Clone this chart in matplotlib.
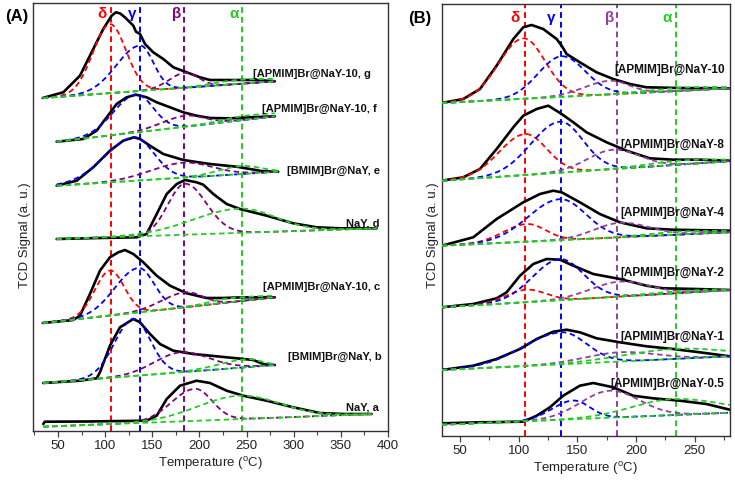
import numpy as np
import matplotlib
matplotlib.use('Agg')
import matplotlib.pyplot as plt
from matplotlib.ticker import MultipleLocator

plt.rcParams['font.family'] = ['Liberation Sans', 'DejaVu Sans']
plt.rcParams['mathtext.fontset'] = 'custom'
plt.rcParams['mathtext.rm'] = 'Liberation Sans'

# ======================= Panel A data =======================
# measured TCD traces (temperature degC, signal a.u. incl. vertical offset)
A_g_T = [33.8, 55.6, 73.3, 87.4, 98.0, 106.9, 111.5, 116.0, 121.0, 129.9, 132.7, 137.0, 142.3,
         151.0, 161.7, 172.3, 186.5, 200.6, 211.2, 232.4, 260.7, 280.0]
A_g_S = [333.0, 338.7, 355.3, 382.0, 402.0, 415.3, 418.7, 417.5, 413.7, 405.3, 399.3, 397.0, 387.0,
         378.7, 372.0, 363.7, 358.7, 353.7, 351.0, 351.0, 351.0, 349.7]
A_f_T = [48.6, 76.8, 91.0, 101.6, 112.2, 122.8, 132.7, 144.0, 154.7, 168.8, 182.9, 197.0,
         211.2, 232.4, 253.6, 280.0]
A_f_S = [289.3, 292.0, 300.3, 313.7, 327.0, 333.7, 336.3, 333.7, 328.7, 323.7, 318.7, 315.3,
         313.0, 312.7, 313.7, 314.7]
A_e_T = [48.6, 69.8, 87.4, 105.1, 119.2, 130.6, 137.0, 147.6, 161.7, 182.9, 211.2, 239.5,
         267.7, 283.6]
A_e_S = [245.3, 250.3, 263.7, 280.3, 290.3, 293.7, 292.0, 285.3, 277.0, 271.0, 267.0, 264.3,
         259.7, 259.3]
A_d_T = [48.6, 94.5, 133.5, 144.0, 154.7, 165.3, 175.9, 184.7, 197.0, 204.1, 214.7, 228.9,
         243.0, 271.3, 299.5, 324.3, 349.0, 388.0]
A_d_S = [192.0, 193.0, 193.7, 197.0, 217.0, 237.0, 247.0, 251.0, 248.7, 246.3, 237.0, 227.0,
         222.0, 215.3, 207.7, 203.7, 202.7, 202.7]
A_c_T = [33.8, 66.2, 73.3, 83.9, 94.5, 105.1, 114.0, 121.0, 129.9, 140.5, 154.7, 168.8,
         186.5, 207.7, 225.3, 246.5, 280.0]
A_c_S = [108.0, 111.0, 115.3, 137.0, 160.3, 173.7, 178.7, 181.0, 177.0, 168.7, 155.3, 145.3,
         137.7, 133.0, 133.0, 133.7, 133.7]
A_b_T = [34.4, 73.3, 91.0, 94.5, 105.1, 115.7, 129.9, 137.0, 147.6, 158.2, 172.3, 193.5,
         228.9, 257.1, 267.7, 280.0]
A_b_S = [48.0, 50.3, 52.7, 58.7, 85.3, 103.7, 112.0, 108.7, 97.0, 87.0, 80.3, 77.0,
         73.7, 71.0, 67.0, 66.0]
A_a_T = [34.4, 36.0, 80.0, 144.0, 154.7, 165.3, 179.4, 197.0, 211.2, 228.9, 246.5, 271.3,
         299.5, 327.8, 352.5, 382.6]
A_a_S = [7.0, 9.3, 9.5, 10.3, 15.3, 32.0, 45.3, 50.3, 48.0, 40.3, 35.3, 30.3,
         23.7, 18.0, 17.0, 17.0]

# linear baselines: [T_start, S_start, T_end, S_end]
A_g_base = [33.8, 333.0, 280.0, 349.7]
A_f_base = [48.6, 289.3, 280.0, 314.7]
A_e_base = [48.6, 245.3, 283.6, 259.3]
A_d_base = [48.6, 192.0, 388.0, 202.7]
A_c_base = [33.8, 108.0, 280.0, 133.7]
A_b_base = [34.4, 48.0, 280.0, 66.0]
A_a_base = [34.4, 4.3, 382.6, 17.0]

# deconvoluted peaks: [centre, height, left width, right width]
A_g_peaks = {'delta': [105.0, 69.0, 18.0, 17.0], 'gamma': [137.0, 45.5, 25.0, 14.0],
             'beta': [185.0, 15.0, 17.0, 14.0], 'alpha': [240.0, 4.0, 25.0, 40.0]}
A_f_peaks = {'gamma': [132.7, 38.0, 24.0, 18.0], 'beta': [185.0, 11.0, 25.0, 20.0],
             'alpha': [250.0, 4.0, 25.0, 40.0]}
A_e_peaks = {'gamma': [130.6, 43.5, 31.0, 21.0], 'beta': [183.0, 15.0, 35.0, 30.0],
             'alpha': [245.0, 8.0, 25.0, 20.0]}
A_d_peaks = {'beta': [184.7, 51.0, 18.0, 22.5], 'alpha': [243.0, 24.3, 50.0, 37.0]}
A_c_peaks = {'delta': [105.1, 45.0, 16.0, 15.0], 'gamma': [135.2, 44.5, 25.0, 16.6],
             'beta': [184.7, 15.0, 25.0, 18.0], 'alpha': [230.0, 4.0, 20.0, 40.0]}
A_b_peaks = {'gamma': [129.9, 57.0, 20.0, 18.0], 'beta': [180.0, 20.0, 28.0, 30.0],
             'alpha': [250.0, 8.0, 30.0, 15.0]}
A_a_peaks = {'beta': [195.3, 32.0, 25.0, 18.0], 'alpha': [243.0, 23.4, 45.0, 42.0]}

A_labels = ['[APMIM]Br@NaY-10, g', '[APMIM]Br@NaY-10, f', '[BMIM]Br@NaY, e', 'NaY, d',
            '[APMIM]Br@NaY-10, c', '[BMIM]Br@NaY, b', 'NaY, a']
A_site_T = [106, 137, 184, 245]

# ======================= Panel B data =======================
B_10_T = [34.4, 52.8, 67.0, 81.2, 95.4, 103.9, 111.0, 120.9, 132.3, 136.6, 140.8, 152.1,
          166.3, 180.5, 194.7, 208.9, 237.2, 279.8]
B_10_S = [332.7, 336.7, 346.7, 370.0, 396.7, 408.4, 410.7, 406.7, 396.7, 390.0, 381.7, 373.4,
          363.4, 356.7, 351.7, 348.4, 347.7, 347.4]
B_8_T = [34.4, 52.8, 67.0, 81.2, 95.4, 103.9, 115.3, 125.2, 136.6, 146.5, 157.8, 174.9,
         191.9, 211.7, 231.5, 254.3, 279.8]
B_8_S = [255.0, 258.4, 266.7, 286.7, 308.4, 320.0, 326.7, 330.0, 321.7, 313.4, 303.4, 293.4,
         285.0, 277.4, 276.0, 276.0, 275.0]
B_4_T = [34.4, 61.3, 81.2, 103.9, 118.1, 129.4, 136.6, 152.1, 169.1, 186.2, 208.9, 231.5, 279.8]
B_4_S = [190.0, 198.4, 216.7, 233.4, 241.7, 245.0, 243.4, 233.4, 221.7, 213.4, 207.4, 206.0, 205.0]
B_2_T = [34.4, 61.3, 81.2, 89.7, 101.1, 112.4, 123.8, 135.1, 146.5, 163.5, 186.2, 208.9,
         223.0, 251.4, 279.8]
B_2_S = [128.4, 131.7, 137.4, 143.4, 160.0, 171.7, 176.7, 176.0, 170.0, 161.7, 156.7, 150.0,
         147.4, 146.7, 145.7]
B_1_T = [34.4, 61.3, 81.2, 101.1, 115.3, 129.4, 140.8, 152.1, 166.3, 186.2, 208.9, 231.5,
         254.3, 279.8]
B_1_S = [65.7, 70.0, 76.7, 86.7, 96.7, 104.0, 106.0, 103.4, 97.4, 93.4, 89.4, 86.7, 83.4, 79.4]
B_05_T = [34.4, 67.0, 103.9, 115.3, 126.6, 137.9, 152.1, 163.5, 180.5, 197.5, 214.5, 237.2,
          259.9, 279.8]
B_05_S = [12.4, 13.4, 14.0, 20.0, 28.4, 40.0, 50.0, 52.7, 48.4, 40.0, 37.4, 35.0, 31.7, 26.0]

B_10_base = [34.4, 332.7, 279.8, 347.4]
B_8_base = [34.4, 255.0, 279.8, 274.5]
B_4_base = [34.4, 190.0, 279.8, 203.5]
B_2_base = [34.4, 128.4, 279.8, 145.7]
B_1_base = [34.4, 65.7, 279.8, 79.4]
B_05_base = [34.4, 11.0, 279.8, 23.0]

B_10_peaks = {'delta': [103.9, 60.5, 21.0, 18.5], 'gamma': [136.6, 40.6, 20.0, 20.0],
              'beta': [177.7, 13.7, 22.0, 16.0], 'alpha': [240.0, 3.0, 30.0, 30.0]}
B_8_peaks = {'delta': [105.3, 41.0, 22.0, 18.5], 'gamma': [135.1, 51.0, 24.7, 19.6],
             'beta': [180.5, 19.4, 22.0, 22.0], 'alpha': [240.0, 4.0, 30.0, 30.0]}
B_4_peaks = {'delta': [106.8, 17.7, 20.0, 16.0], 'gamma': [135.1, 41.0, 27.0, 22.0],
             'beta': [186.2, 14.5, 22.0, 25.0], 'alpha': [240.0, 3.0, 30.0, 30.0]}
B_2_peaks = {'delta': [106.8, 12.5, 18.0, 16.0], 'gamma': [135.1, 41.0, 23.4, 20.0],
             'beta': [186.2, 15.0, 25.0, 25.0], 'alpha': [240.0, 2.0, 30.0, 30.0]}
B_1_peaks = {'gamma': [136.6, 32.0, 33.0, 21.0], 'beta': [186.2, 9.3, 30.0, 30.0],
             'alpha': [234.4, 10.0, 45.0, 40.0]}
B_05_peaks = {'gamma': [146.5, 18.7, 18.0, 14.0], 'beta': [177.7, 27.0, 25.0, 25.0],
              'alpha': [231.5, 16.0, 35.0, 40.0]}

B_labels = ['[APMIM]Br@NaY-10', '[APMIM]Br@NaY-8', '[APMIM]Br@NaY-4', '[APMIM]Br@NaY-2',
            '[APMIM]Br@NaY-1', '[APMIM]Br@NaY-0.5']
B_site_T = [105, 136, 184, 234]

site_names = ['δ', 'γ', 'β', 'α']

# ======================= styling / layout =======================
W, H = 735, 481
RED, BLUE, GREEN = '#ff0000', '#0000ff', '#22cc22'
PURPLE_A, PURPLE_B = '#800080', '#9040a0'
DASH = (3, 2)

A_label_xy = [(381.9, 358), (388.3, 323), (391.5, 261), (391.5, 209), (391.5, 145),
              (393.6, 75), (390.4, 25)]
B_label_xy = [(275.5, 366.7), (275.5, 291.7), (275.5, 223.7), (275.5, 164), (275.5, 100),
              (275.5, 52.7)]
A_greek_T = [96.7, 128.5, 176.2, 236.6]
B_greek_T = [96.8, 127.4, 177.7, 226.2]


def baseline(T, base):
    T0, S0, T1, S1 = base
    return S0 + (S1 - S0) * (T - T0) / (T1 - T0)


def peak_curve(T, base, p):
    c, h, sl, sr = p
    s = np.where(T < c, sl, sr)
    return baseline(T, base) + h * np.exp(-0.5 * ((T - c) / s) ** 2)


def draw_sample(ax, T, S, base, peaks, purple):
    ax.plot(T, S, color='black', lw=1.9, solid_joinstyle='round', solid_capstyle='round',
            zorder=2)
    grid = np.linspace(base[0], base[2], 300)
    cols = {'delta': RED, 'gamma': BLUE, 'beta': purple, 'alpha': GREEN}
    for key in ['delta', 'gamma', 'beta', 'alpha']:
        if key in peaks:
            ax.plot(grid, peak_curve(grid, base, peaks[key]), color=cols[key], lw=1.3,
                    dashes=DASH, zorder=3)
    ax.plot(grid, baseline(grid, base), color=GREEN, lw=1.3, dashes=DASH, zorder=3)


def style_axes(ax, xlim, ylim, xticks):
    ax.set_xlim(*xlim)
    ax.set_ylim(*ylim)
    ax.set_xticks(xticks)
    ax.xaxis.set_minor_locator(MultipleLocator(25))
    ax.set_yticks([])
    ax.tick_params(axis='x', which='major', direction='out', length=4, width=0.9,
                   labelsize=9.5, pad=2, colors='#444444', labelcolor='#222222')
    ax.tick_params(axis='x', which='minor', direction='out', length=3, width=0.8,
                   colors='#444444')
    for sp in ax.spines.values():
        sp.set_linewidth(1.0)
        sp.set_color('#333333')
    ax.set_xlabel('Temperature ($^{\\mathrm{o}}$C)', fontsize=9.5, labelpad=2, color='#222222')
    ax.set_ylabel('TCD Signal (a. u.)', fontsize=9.5, color='#222222')


fig = plt.figure(figsize=(W / 100, H / 100), dpi=100)
axA = fig.add_axes([33 / W, 1 - 432 / H, 355 / W, 428 / H])
axB = fig.add_axes([441.7 / W, 1 - 436.7 / H, (730 - 441.7) / W, (436.7 - 5) / H])

style_axes(axA, (23.5, 400), (0, 428), [50, 100, 150, 200, 250, 300, 350, 400])
style_axes(axB, (34.4, 280), (0, 431.7), [50, 100, 150, 200, 250])
axA.yaxis.set_label_coords(-0.006, 0.46)
axB.yaxis.set_label_coords(-0.01, 0.467)

site_cols_A = [RED, BLUE, PURPLE_A, GREEN]
site_cols_B = [RED, BLUE, PURPLE_B, GREEN]
for t, c in zip(A_site_T, site_cols_A):
    axA.axvline(t, color=c, lw=1.4, dashes=DASH, zorder=1)
for t, c in zip(B_site_T, site_cols_B):
    axB.axvline(t, color=c, lw=1.4, dashes=DASH, zorder=1)
for t, c, n in zip(A_greek_T, site_cols_A, site_names):
    axA.text(t, 418, n, color=c, fontsize=11, fontweight='bold', ha='center', va='center')
for t, c, n in zip(B_greek_T, site_cols_B, site_names):
    axB.text(t, 418.7, n, color=c, fontsize=11, fontweight='bold', ha='center', va='center')

A_samples = [(A_g_T, A_g_S, A_g_base, A_g_peaks), (A_f_T, A_f_S, A_f_base, A_f_peaks),
             (A_e_T, A_e_S, A_e_base, A_e_peaks), (A_d_T, A_d_S, A_d_base, A_d_peaks),
             (A_c_T, A_c_S, A_c_base, A_c_peaks), (A_b_T, A_b_S, A_b_base, A_b_peaks),
             (A_a_T, A_a_S, A_a_base, A_a_peaks)]
for (T, S, base, peaks), lab, (lx, ly) in zip(A_samples, A_labels, A_label_xy):
    draw_sample(axA, np.array(T), np.array(S), base, peaks, PURPLE_A)
    axA.text(lx, ly, lab, fontsize=8, fontweight='bold', ha='right', va='center',
             color='#111111', zorder=5)

B_samples = [(B_10_T, B_10_S, B_10_base, B_10_peaks), (B_8_T, B_8_S, B_8_base, B_8_peaks),
             (B_4_T, B_4_S, B_4_base, B_4_peaks), (B_2_T, B_2_S, B_2_base, B_2_peaks),
             (B_1_T, B_1_S, B_1_base, B_1_peaks), (B_05_T, B_05_S, B_05_base, B_05_peaks)]
for (T, S, base, peaks), lab, (lx, ly) in zip(B_samples, B_labels, B_label_xy):
    draw_sample(axB, np.array(T), np.array(S), base, peaks, PURPLE_B)
    axB.text(lx, ly, lab, fontsize=8.5, fontweight='bold', ha='right', va='center',
             color='#111111', zorder=5)

fig.text(17 / W, 1 - 17 / H, '(A)', fontsize=12, fontweight='bold', ha='center', va='center')
fig.text(420 / W, 1 - 18 / H, '(B)', fontsize=12, fontweight='bold', ha='center', va='center')

fig.savefig('out.png', dpi=100)
